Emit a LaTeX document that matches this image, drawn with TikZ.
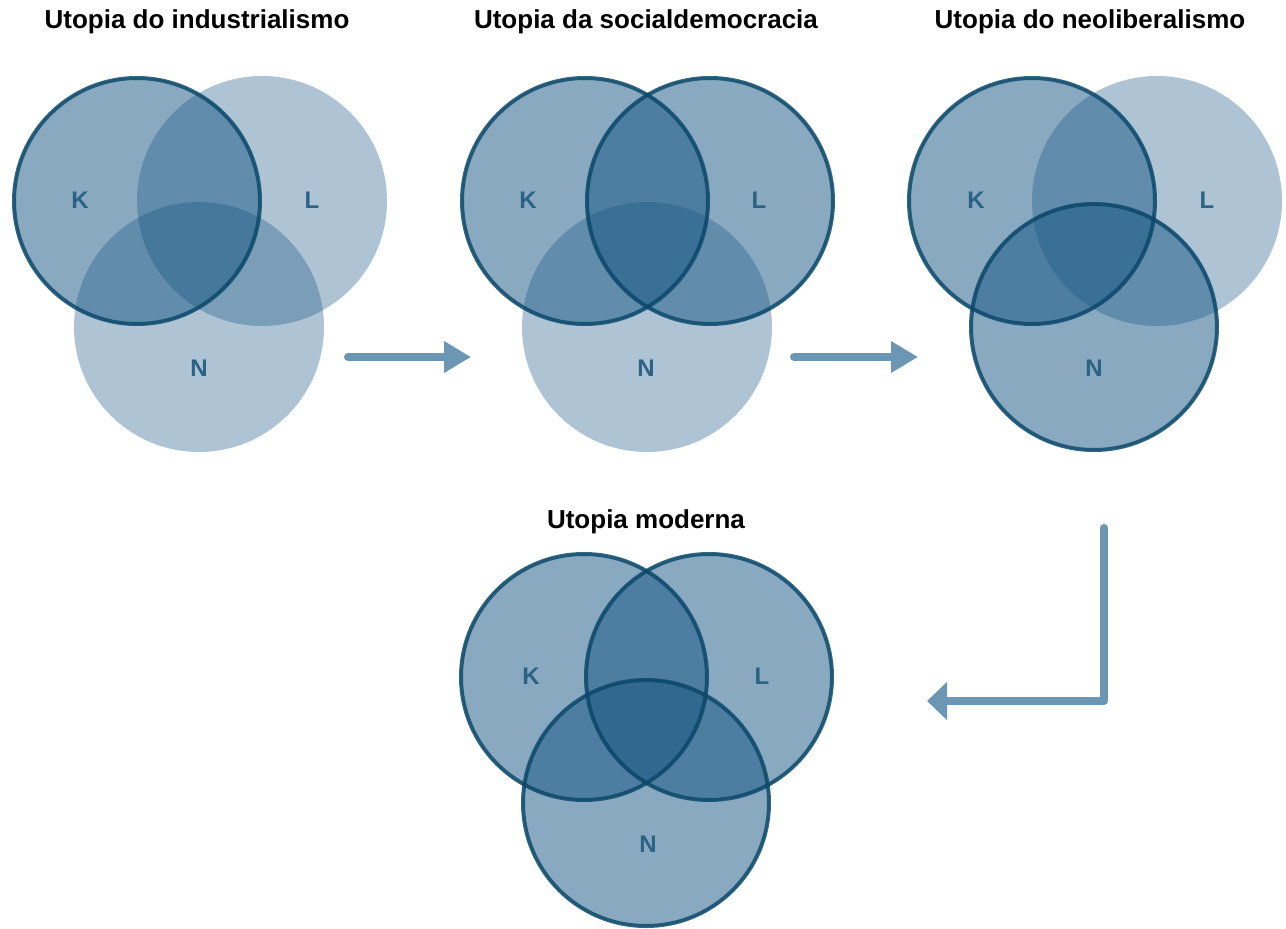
\documentclass[tikz,border=0pt]{standalone}
\usepackage{fontspec}
\setmainfont{Liberation Sans}
\usetikzlibrary{arrows.meta}
\definecolor{vennblue}{HTML}{135381}
\definecolor{vennline}{HTML}{0A4769}
\definecolor{arrowblue}{HTML}{6B96B4}
\definecolor{tagblue}{HTML}{2C6284}
\begin{document}
\begin{tikzpicture}[x=1pt,y=-1pt,
  full/.style={circle,minimum size=248pt,inner sep=0pt,fill=vennblue,fill opacity=0.5},
  faint/.style={circle,minimum size=250pt,inner sep=0pt,fill=vennblue,fill opacity=0.34},
  rim/.style={draw=vennline,draw opacity=0.82,line width=4pt},
  heading/.style={anchor=base,font=\bfseries\fontsize{26}{30}\selectfont},
  tag/.style={anchor=base,text=tagblue,font=\bfseries\fontsize{24}{28}\selectfont},
  flow/.style={draw=arrowblue,line width=8pt,line cap=round,line join=round}]
 \useasboundingbox (0,0) rectangle (1286,929);

 % industrialismo
 \node[heading] (t1) at (197,28) {Utopia do industrialismo};
 \node[full]  (k1) at (137,201) {};
 \node[faint] (l1) at (262,201) {};
 \node[faint] (n1) at (199,327) {};
 \draw[rim] (k1.center) circle[radius=123];
 \node[tag] (k1t) at (80,208) {K};
 \node[tag] (l1t) at (312,208) {L};
 \node[tag] (n1t) at (199,376) {N};

 % socialdemocracia
 \node[heading] (t2) at (646,28) {Utopia da socialdemocracia};
 \node[full]  (k2) at (585,201) {};
 \node[full]  (l2) at (710,201) {};
 \node[faint] (n2) at (647,327) {};
 \draw[rim] (k2.center) circle[radius=123];
 \draw[rim] (l2.center) circle[radius=123];
 \node[tag] (k2t) at (528,208) {K};
 \node[tag] (l2t) at (759,208) {L};
 \node[tag] (n2t) at (646,376) {N};

 % neoliberalismo
 \node[heading] (t3) at (1090,28) {Utopia do neoliberalismo};
 \node[full]  (k3) at (1032,201) {};
 \node[faint] (l3) at (1157,201) {};
 \node[full]  (n3) at (1094,327) {};
 \draw[rim] (k3.center) circle[radius=123];
 \draw[rim] (n3.center) circle[radius=123];
 \node[tag] (k3t) at (976,208) {K};
 \node[tag] (l3t) at (1207,208) {L};
 \node[tag] (n3t) at (1094,376) {N};

 % moderna
 \node[heading] (t4) at (646,528) {Utopia moderna};
 \node[full] (k4) at (584,677) {};
 \node[full] (l4) at (709,677) {};
 \node[full] (n4) at (646,803) {};
 \draw[rim] (k4.center) circle[radius=123];
 \draw[rim] (l4.center) circle[radius=123];
 \draw[rim] (n4.center) circle[radius=123];
 \node[tag] (k4t) at (531,684) {K};
 \node[tag] (l4t) at (762,684) {L};
 \node[tag] (n4t) at (648,852) {N};

 % arrows
 \coordinate (a1s) at (348,357);
 \coordinate (a1e) at (471,357);
 \coordinate (a2s) at (794,357);
 \coordinate (a2e) at (918,357);
 \coordinate (a3s) at (1104,528);
 \coordinate (a3e) at (927,701);
 \draw[flow,-{Triangle[length=27pt,width=30pt]}] (a1s) -- (a1e);
 \draw[flow,-{Triangle[length=27pt,width=30pt]}] (a2s) -- (a2e);
 \draw[flow,-{Triangle[length=20pt,width=37pt]}] (a3s) |- (a3e);
\end{tikzpicture}
\end{document}
